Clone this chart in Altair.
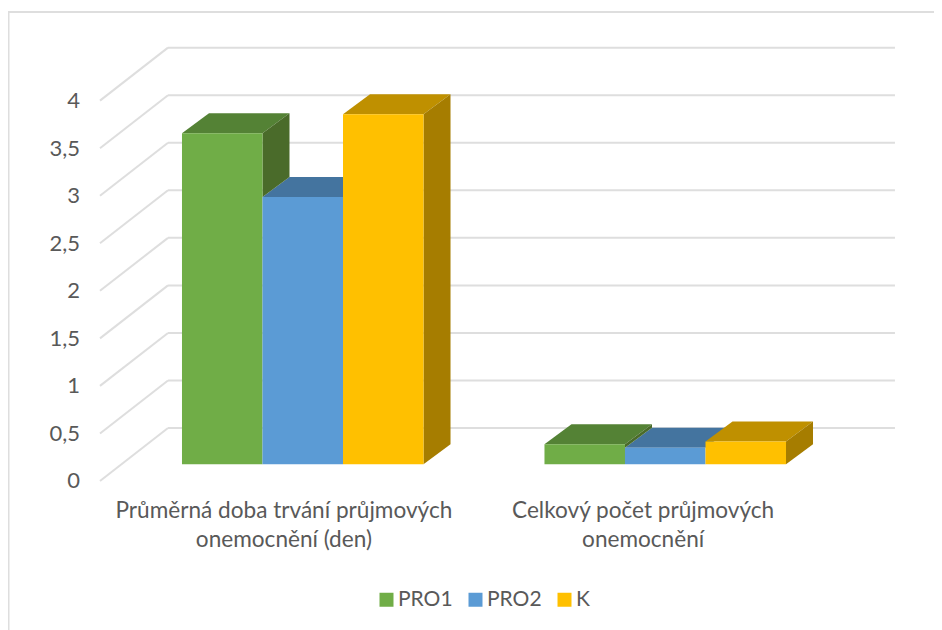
import altair as alt
import pandas as pd

categories = ["Průměrná doba trvání průjmových\nonemocnění (den)", "Celkový počet průjmových\nonemocnění"]
series = ["PRO1", "PRO2", "K"]
pro1 = [3.48, 0.21]
pro2 = [2.81, 0.175]
k = [3.68, 0.24]
values = {"PRO1": pro1, "PRO2": pro2, "K": k}
ticks = [0, 0.5, 1, 1.5, 2, 2.5, 3, 3.5, 4]
front = ["#70AD47", "#5B9BD5", "#FFC000"]
top = ["#548235", "#44749F", "#BF9000"]
side = ["#4A6B2A", "#3C6A92", "#A67D00"]

W, H = 926, 622
X_DOM = [-0.8131, 1.7414]
Y_DOM = [-1.567, 4.974]
BAR_W = 0.2221
BAR_BASE = 0.1756
BAR_DX = 0.0745
BAR_DY = 0.2103
WALL_X0 = -0.5593
WALL_X1 = -0.3717
WALL_X2 = 1.6337
WALL_DY = 0.557
LABEL_X = [-0.052, 0.939]

GRID = "#DEDEDE"
TXT = "#595959"
FONT = "Lato"

xs = alt.Scale(domain=X_DOM, range=[0, W], nice=False, zero=False)
ys = alt.Scale(domain=Y_DOM, range=[H, 0], nice=False, zero=False)
y_axis = alt.Axis(
    values=ticks, domain=False, ticks=False, grid=False, labelPadding=0, title=None,
    offset=-71.5, labelFontSize=22, labelFont=FONT, labelColor=TXT,
    labelExpr="replace(format(datum.value, '.1~f'), '.', ',')")
X = lambda f="x": alt.X(f"{f}:Q", scale=xs, axis=None)
Y = lambda f="y": alt.Y(f"{f}:Q", scale=ys, axis=y_axis)

# back-wall gridlines
grid_df = pd.DataFrame({"x": [WALL_X1] * len(ticks), "x2": [WALL_X2] * len(ticks),
                        "y": [t + WALL_DY for t in ticks]})
grid = alt.Chart(grid_df).mark_rule(color=GRID, strokeWidth=2).encode(
    x=X(), x2="x2:Q", y=Y())

# side-wall diagonals
diag_rows = []
for t in ticks:
    diag_rows.append({"x": WALL_X0, "y": t, "tick": t})
    diag_rows.append({"x": WALL_X1, "y": t + WALL_DY, "tick": t})
diag = alt.Chart(pd.DataFrame(diag_rows)).mark_line(color=GRID, strokeWidth=2).encode(
    x=X(), y=Y(), detail="tick:N")

layers = [grid, diag]

# depth faces
for c in range(len(categories)):
    for s in [1, 0, 2]:
        v = values[series[s]][c] + BAR_BASE
        x0 = c + (s - 1.5) * BAR_W
        x1 = x0 + BAR_W
        low = BAR_BASE
        if s < 2:
            low = min(v, values[series[s + 1]][c] + BAR_BASE)
        side_df = pd.DataFrame({"x": [x1, x1 + BAR_DX],
                                "y": [v, v + BAR_DY],
                                "y2": [low, low + BAR_DY]})
        top_df = pd.DataFrame({"x": [x0, x0 + BAR_DX, x1, x1 + BAR_DX],
                               "y": [v, v + BAR_DY, v + BAR_DY, v + BAR_DY],
                               "y2": [v, v, v, v + BAR_DY]})
        layers.append(alt.Chart(top_df).mark_area(color=top[s], opacity=1).encode(x=X(), y=Y(), y2="y2:Q"))
        layers.append(alt.Chart(side_df).mark_area(color=side[s], opacity=1).encode(x=X(), y=Y(), y2="y2:Q"))

# front faces with the legend
rows = []
for c in range(len(categories)):
    for s, name in enumerate(series):
        x0 = c + (s - 1.5) * BAR_W
        rows.append({"series": name, "x": x0, "x2": x0 + BAR_W, "y": values[name][c] + BAR_BASE, "y2": BAR_BASE})
fronts = alt.Chart(pd.DataFrame(rows)).mark_rect().encode(
    x=X(), x2="x2:Q", y=Y(), y2="y2:Q",
    color=alt.Color("series:N", scale=alt.Scale(domain=series, range=front), legend=alt.Legend(
        title=None, orient="none", legendX=368, legendY=581, direction="horizontal", columns=3,
        symbolType="square", symbolSize=196, symbolStrokeWidth=0, labelFont=FONT, labelFontSize=21,
        labelColor=TXT, labelOffset=1, columnPadding=12, symbolOpacity=1)))
layers.append(fronts)

# category labels
cat_df = pd.DataFrame({"x": LABEL_X, "y": [-0.32] * len(categories), "label": categories})
cat = alt.Chart(cat_df).mark_text(font=FONT, fontSize=22.6, color=TXT, lineBreak="\n", lineHeight=29,
                                  align="center", baseline="middle").encode(
    x=X(), y=Y(), text="label:N")
layers.append(cat)

# chart frame
frame_top = alt.Chart(pd.DataFrame({"a": [0]})).mark_rule(color=GRID, strokeWidth=2).encode(
    x=alt.value(0), x2=alt.value(W), y=alt.value(4))
frame_left = alt.Chart(pd.DataFrame({"a": [0]})).mark_rule(color=GRID, strokeWidth=2).encode(
    x=alt.value(0.5), y=alt.value(4), y2=alt.value(H))
layers += [frame_top, frame_left]

chart = alt.layer(*layers).properties(
    width=W, height=H, background="white", padding=0,
    autosize=alt.AutoSizeParams(type="none")
).configure_view(stroke=None)

chart.save("out.html", embed_options={"renderer": "svg", "actions": False})
